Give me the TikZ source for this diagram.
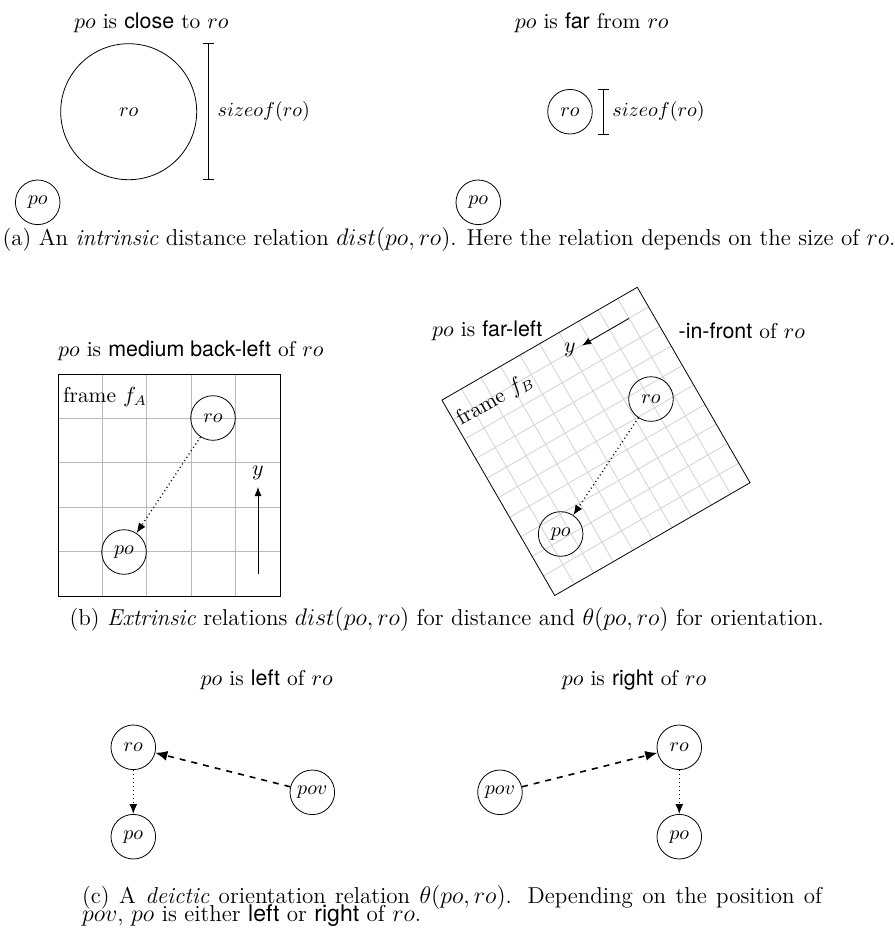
\documentclass[tikz,border=0pt]{standalone}
\usepackage{fontspec}
\setsansfont{TeX Gyre Heros}
\usetikzlibrary{arrows.meta}
\begin{document}
\begin{tikzpicture}[x=0.5pt,y=-0.5pt,
  obj/.style={circle,draw,minimum size=22.3pt,inner sep=0pt},
  bigobj/.style={circle,draw,minimum size=68pt,inner sep=0pt},
  lbl/.style={inner sep=0pt,font=\fontsize{10.7}{12.5}\selectfont},
  captxt/.style={inner sep=0pt,font=\fontsize{11.5}{13}\selectfont},
  gridA/.style={gray!55,line width=0.4pt},
  gridB/.style={gray!35,line width=0.4pt},
  rel/.style={line width=0.65pt,dash pattern=on 0.5pt off 1.5pt,-{Latex[length=5pt,width=4pt]}},
  view/.style={dashed,thick,-{Latex[length=6pt,width=5pt]}},
  axis/.style={-{Latex[length=4.5pt,width=3.5pt]}},
  sizebar/.style={{Bar[width=5.8pt]}-{Bar[width=5.8pt]}},
]
\useasboundingbox (0,0) rectangle (895,938);

% ---------- (a) ----------
\node[lbl] (la) at (151.3,23) {$po$ is \textsf{close} to $ro$};
\node[bigobj] (roA) at (128.7,111.7) {$ro$};
\node[obj] (poA) at (37.7,202.3) {$po$};
\coordinate (ba1) at (208.3,43.3);
\coordinate (ba2) at (208.3,179.5);
\draw[sizebar] (ba1) -- (ba2);
\node[inner sep=0pt,anchor=west] (sa) at (217.3,111.7) {$sizeof(ro)$};

\node[lbl] (lb) at (591.7,23) {$po$ is \textsf{far} from $ro$};
\node[obj] (roB) at (570,111.7) {$ro$};
\node[obj] (poB) at (478.3,202.3) {$po$};
\coordinate (bb1) at (603.3,89);
\coordinate (bb2) at (603.3,134.3);
\draw[sizebar] (bb1) -- (bb2);
\node[inner sep=0pt,anchor=west] (sb) at (612,111.7) {$sizeof(ro)$};

\node[captxt] (capa) at (449,239) {(a) An \textit{intrinsic} distance relation $dist(po,ro)$. Here the relation depends on the size of $ro$.};

% ---------- (b) frame A ----------
\node[lbl] (lc) at (190.8,351) {$po$ is \textsf{medium back-left} of $ro$};
\begin{scope}[shift={(169,485)}]
  \foreach \k in {1,...,4}{
    \draw[gridA] (-111+44.4*\k,-111) -- (-111+44.4*\k,111);
    \draw[gridA] (-111,-111+44.4*\k) -- (111,-111+44.4*\k);
  }
  \draw (-111,-111) -- (111,-111) -- (111,111) -- (-111,111) -- cycle;
  \node[lbl] (fA) at (-64,-88) {frame $f_A$};
  \node[obj] (roF) at (44,-67) {$ro$};
  \node[obj] (poF) at (-45,67) {$po$};
  \draw[rel] (roF) -- (poF);
  \coordinate (ya0) at (89,89);
  \coordinate (ya1) at (89,2);
  \draw[axis] (ya0) -- (ya1);
  \node[lbl] (yA) at (89,-12) {$y$};
\end{scope}

% ---------- (b) frame B ----------
\node[lbl,anchor=west] (ld1) at (431.7,331) {$po$ is \textsf{far-left}};
\node[lbl,anchor=west] (ld2) at (678.3,331) {\textsf{-in-front} of $ro$};
\begin{scope}[shift={(596,441.4)},rotate=30]
  \foreach \k in {1,...,9}{
    \draw[gridB] (-112.8+22.56*\k,-112.8) -- (-112.8+22.56*\k,112.8);
    \draw[gridB] (-112.8,-112.8+22.56*\k) -- (112.8,-112.8+22.56*\k);
  }
  \draw (-112.8,-112.8) -- (112.8,-112.8) -- (112.8,112.8) -- (-112.8,112.8) -- cycle;
  \node[lbl,rotate=30] (fB) at (-66.8,-86.4) {frame $f_B$};
  \node[obj] (roG) at (68.8,-9.2) {$ro$};
  \node[obj] (poG) at (-76.9,62.5) {$po$};
  \draw[rel] (roG) -- (poG);
  \coordinate (yb0) at (90,-90);
  \coordinate (yb1) at (36,-90);
  \draw[axis] (yb0) -- (yb1);
  \node[lbl] (yB) at (23.2,-92.2) {$y$};
\end{scope}

\node[captxt] (capb) at (446.7,619) {(b) \textit{Extrinsic} relations $dist(po,ro)$ for distance and $\theta(po,ro)$ for orientation.};

% ---------- (c) ----------
\node[lbl] (le) at (266.7,680) {$po$ is \textsf{left} of $ro$};
\node[obj] (ro1) at (133.3,747.3) {$ro$};
\node[obj] (po1) at (133.3,836.7) {$po$};
\node[obj] (pov1) at (312.3,792.3) {$pov$};
\draw[rel] (ro1) -- (po1);
\draw[view] (pov1) -- (ro1);

\node[lbl] (lf) at (634,680) {$po$ is \textsf{right} of $ro$};
\node[obj] (ro2) at (679.3,747.3) {$ro$};
\node[obj] (po2) at (679.3,836.7) {$po$};
\node[obj] (pov2) at (500,792.3) {$pov$};
\draw[rel] (ro2) -- (po2);
\draw[view] (pov2) -- (ro2);

\node[captxt,anchor=west] (capc1) at (81.7,897.5) {\makebox[370pt][s]{(c) A \textit{deictic} orientation relation $\theta(po,ro)$. Depending on the position of}};
\node[captxt,anchor=west] (capc2) at (81.7,915.5) {$pov$, $po$ is either \textsf{left} or \textsf{right} of $ro$.};
\end{tikzpicture}
\end{document}
